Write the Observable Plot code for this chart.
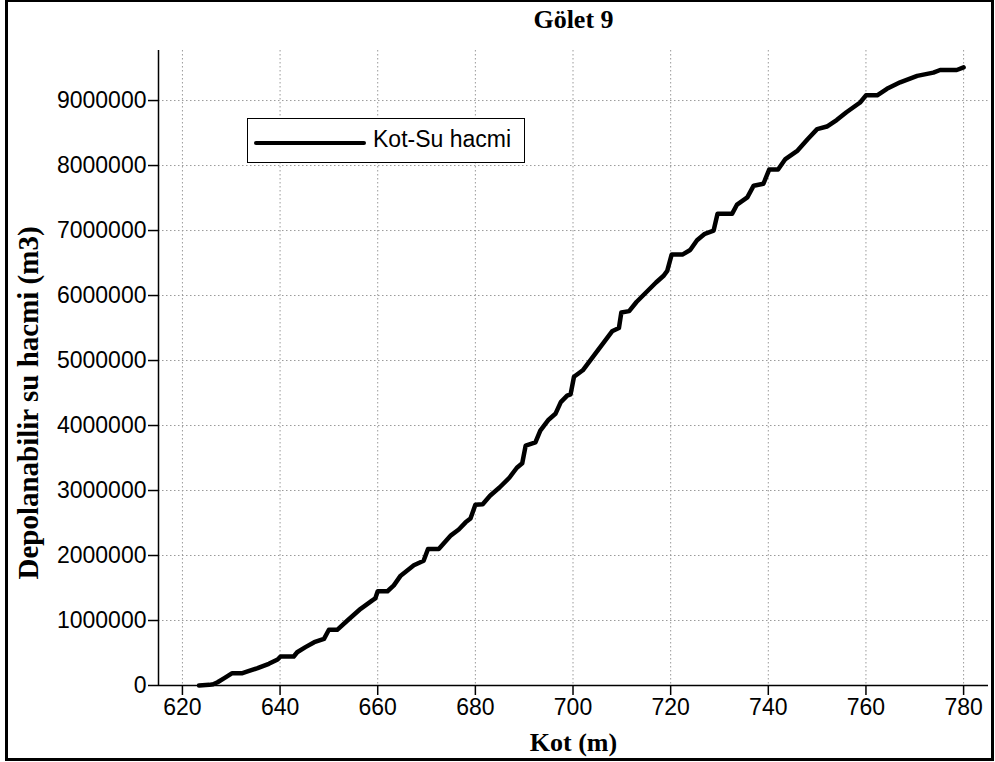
<!DOCTYPE html>
<html>
<head>
<meta charset="utf-8">
<script src="https://cdn.jsdelivr.net/npm/d3@7"></script>
<script src="https://cdn.jsdelivr.net/npm/@observablehq/plot@0.6"></script>
<style>
  html, body { margin: 0; padding: 0; background: white; }
  #wrap { position: relative; width: 995px; height: 762px; }
  #frame { position: absolute; left: 5px; top: -1px; width: 983px; height: 756px; border: 3px solid black; pointer-events: none; }
  #legend { position: absolute; left: 247px; top: 118px; width: 276px; height: 43px; border: 1.5px solid black; background: white; font-family: "Liberation Sans", Arial, sans-serif; font-size: 23px; }
  #legend svg { position: absolute; left: 6px; top: 0; }
  #legend span { position: absolute; left: 125px; top: 7px; white-space: nowrap; }
</style>
</head>
<body>
<div id="wrap">
  <div id="chart"></div>
  <div id="legend"><svg width="115" height="43"><line x1="2" x2="110" y1="24" y2="24" stroke="black" stroke-width="4" stroke-linecap="round"/></svg><span>Kot-Su hacmi</span></div>
  <div id="frame"></div>
</div>
<script>
const titleText = "Gölet 9";
const xLabel = "Kot (m)";
const yLabel = "Depolanabilir su hacmi (m3)";
const seriesName = "Kot-Su hacmi";

const xTicks = [620, 640, 660, 680, 700, 720, 740, 760, 780];
const yTicks = [0, 1000000, 2000000, 3000000, 4000000, 5000000, 6000000, 7000000, 8000000, 9000000];

const kot = [
  623.4, 625.5, 626.3, 627.2, 628.5, 630.2, 632.3, 633.5, 635.4, 637.7,
  639.5, 640.1, 642.8, 643.5, 645.2, 647.0, 649.0, 650.0, 651.7, 653.8,
  656.5, 658.9, 659.5, 660.0, 662.0, 663.3, 664.7, 667.4, 669.4, 670.3,
  672.5, 675.0, 676.6, 678.0, 679.0, 680.0, 681.5, 683.0, 685.0, 687.0,
  688.5, 689.6, 690.3, 692.3, 693.3, 695.0, 696.4, 697.5, 698.8, 699.5,
  700.2, 702.0, 704.0, 706.0, 708.0, 709.4, 709.9, 711.5, 713.0, 715.0,
  717.0, 718.5, 719.3, 720.2, 722.4, 724.0, 725.4, 727.0, 728.8, 729.6,
  732.6, 733.6, 735.7, 737.0, 739.0, 740.2, 742.0, 743.5, 746.0, 748.0,
  750.0, 752.0, 754.0, 756.0, 758.8, 760.0, 762.3, 764.3, 767.0, 770.5,
  773.8, 775.2, 778.6, 780.0
];
const hacim = [
  0, 10000, 20000, 50000, 110000, 190000, 190000, 220000, 266000, 334000,
  400000, 446000, 446000, 512000, 590000, 666000, 718000, 857000, 857000, 1000000,
  1180000, 1310000, 1340000, 1450000, 1450000, 1540000, 1690000, 1850000, 1920000, 2100000,
  2100000, 2310000, 2400000, 2510000, 2570000, 2780000, 2790000, 2920000, 3050000, 3200000,
  3350000, 3420000, 3690000, 3740000, 3920000, 4090000, 4180000, 4360000, 4460000, 4480000,
  4750000, 4850000, 5050000, 5250000, 5450000, 5500000, 5740000, 5760000, 5900000, 6050000,
  6200000, 6300000, 6380000, 6630000, 6630000, 6700000, 6850000, 6950000, 7000000, 7260000,
  7260000, 7400000, 7510000, 7690000, 7720000, 7940000, 7940000, 8100000, 8230000, 8400000,
  8560000, 8600000, 8700000, 8820000, 8970000, 9080000, 9080000, 9180000, 9280000, 9380000,
  9430000, 9470000, 9470000, 9510000
];

const data = kot.map((k, i) => ({kot: k, hacim: hacim[i]}));
const xMin = 615.1;
const serif = "'Liberation Serif', 'Times New Roman', serif";

const gridStyle = {stroke: "#9a9a9a", strokeOpacity: 1, strokeWidth: 1, strokeDasharray: "1.5,2.5"};

const chart = Plot.plot({
  width: 995,
  height: 762,
  marginLeft: 158,
  marginRight: 7,
  marginTop: 50,
  marginBottom: 77,
  style: {fontFamily: "'Liberation Sans', Arial, sans-serif", fontSize: "23px", background: "white", color: "black", overflow: "visible"},
  x: {domain: [xMin, 785.1]},
  y: {domain: [0, 9770000]},
  marks: [
    Plot.gridX(xTicks, gridStyle),
    Plot.gridY(yTicks, gridStyle),
    Plot.axisX(xTicks, {tickSize: 10, tickPadding: 3, fontSize: 23, label: null, strokeWidth: 1.5}),
    Plot.axisY(yTicks, {tickSize: 10, tickPadding: 2, fontSize: 23, label: null, tickFormat: d => String(d), strokeWidth: 1.5}),
    Plot.ruleX([xMin], {strokeWidth: 1.5}),
    Plot.ruleY([0], {strokeWidth: 1.5}),
    Plot.line(data, {x: "kot", y: "hacim", stroke: "black", strokeWidth: 4.5, strokeLinejoin: "round", strokeLinecap: "round"}),
    Plot.text([titleText], {frameAnchor: "top", lineAnchor: "middle", dy: -31, fontFamily: serif, fontWeight: "bold", fontSize: 26}),
    Plot.text([xLabel], {frameAnchor: "bottom", lineAnchor: "middle", dy: 57, fontFamily: serif, fontWeight: "bold", fontSize: 26}),
    Plot.text([yLabel], {frameAnchor: "left", textAnchor: "middle", lineAnchor: "middle", dx: -130, dy: 35, rotate: -90, fontFamily: serif, fontWeight: "bold", fontSize: 29, letterSpacing: "2.5px"})
  ]
});
document.getElementById("chart").appendChild(chart);
</script>
</body>
</html>
